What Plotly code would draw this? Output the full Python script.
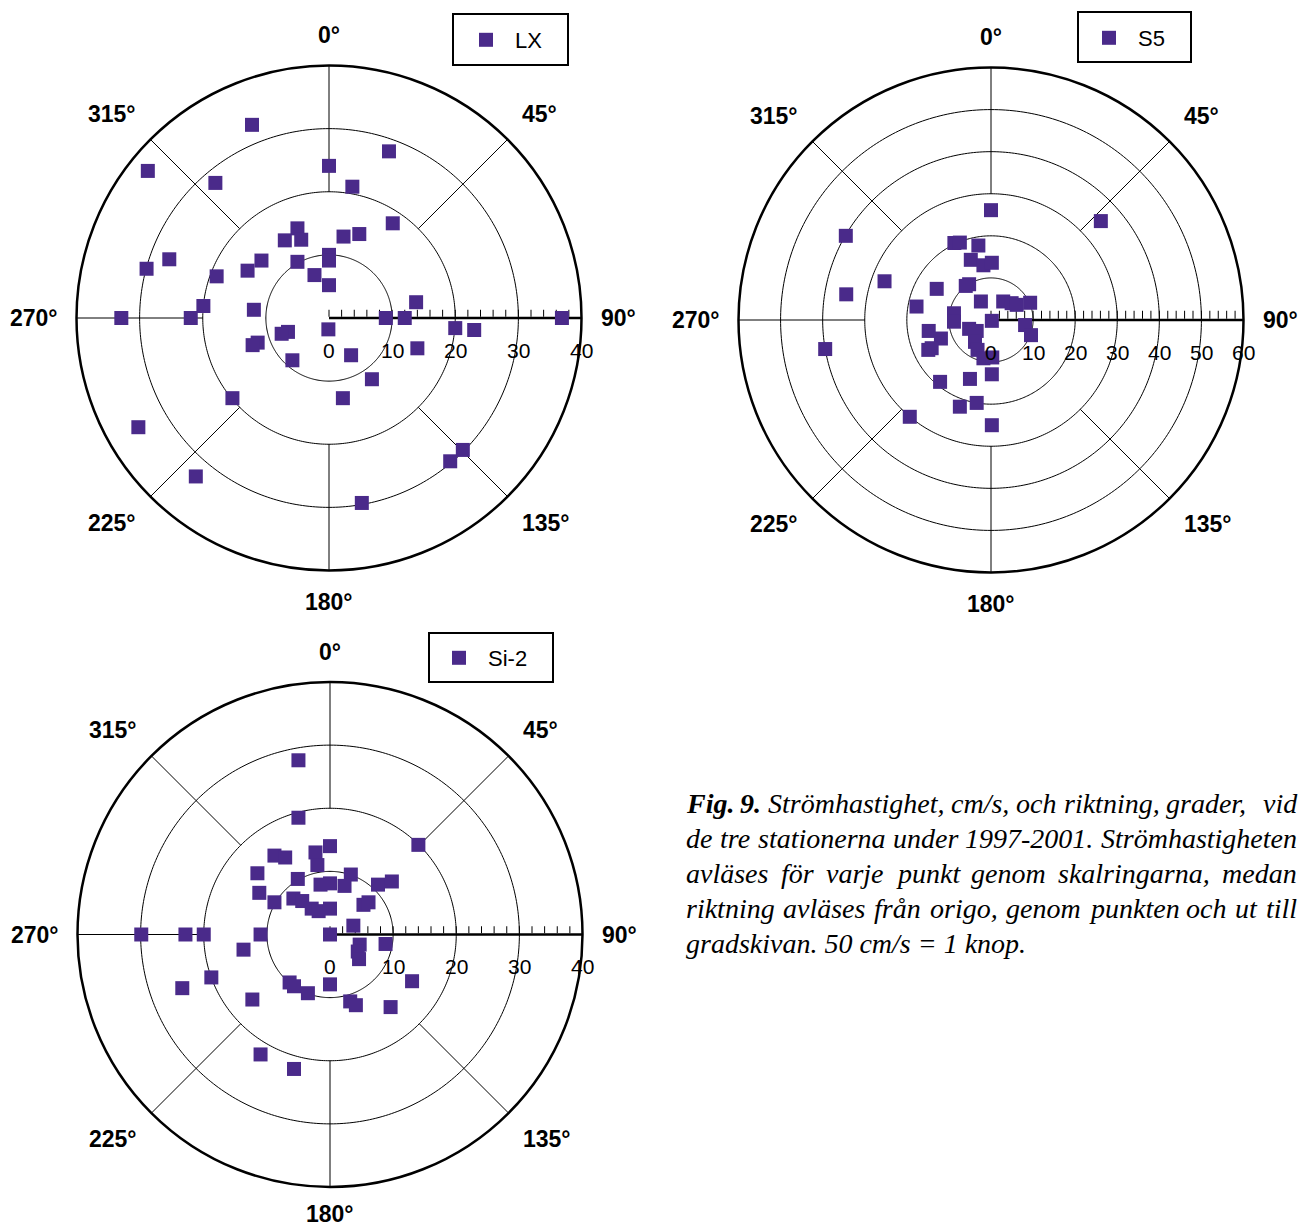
import numpy as np
import plotly.graph_objects as go

W, H = 1301, 1227

# ---------------- data: current velocity components (cm/s), east / north ----------------
lx_east = [-12.2, 9.5, 0.0, -28.7, -18.0, 3.7, 10.1, 4.8, 2.3, -5.0, -4.4, -7.0, 0.0, 0.0, -5.0, -10.7,
           -12.9, -25.3, -28.9, -17.8, -2.3, 0.0, 13.8, -19.9, -11.9, -32.9, -21.9, 9.0, 12.0, 36.9, 20.0,
           23.0, -0.1, -6.5, -7.5, -11.3, -12.1, 14.0, 3.5, -5.8, 6.8, 2.2, -15.3, -30.2, 21.2, 19.2, -21.1, 5.2]
lx_north = [30.6, 26.4, 24.1, 23.3, 21.4, 20.8, 15.0, 13.3, 12.9, 14.2, 12.4, 12.3, 10.0, 9.1, 8.9, 9.1,
            7.5, 9.3, 7.8, 6.6, 6.8, 5.2, 2.5, 1.9, 1.3, 0.0, 0.0, 0.0, 0.0, 0.0, -1.6,
            -1.9, -1.8, -2.2, -2.5, -3.9, -4.3, -4.8, -5.9, -6.7, -9.7, -12.7, -12.7, -17.3, -20.9, -22.7, -25.1, -29.3]

s5_east = [-15.6, 0.0, 26.1, -34.5, -8.7, -7.4, -3.0, -4.8, -1.8, 0.2, -25.3, -5.2, -6.0, -12.9, -34.4,
           -17.7, -2.4, 2.9, 4.9, 6.1, 9.3, -8.8, -8.8, 0.2, 8.1, 9.5, -14.8, -11.9, -14.9, -14.1, -5.2,
           -3.4, -3.8, -3.2, -1.8, 0.3, 0.2, -5.0, -12.1, -3.4, -7.4, -19.3, 0.2, -39.4]
s5_north = [59.0, 26.1, 23.5, 20.0, 18.3, 18.4, 17.7, 14.3, 13.0, 13.6, 9.2, 8.5, 8.1, 7.4, 6.1,
            3.2, 4.4, 4.4, 4.0, 3.6, 4.1, 1.6, -0.4, -0.2, -1.2, -3.6, -2.6, -4.4, -7.1, -6.7, -2.1,
            -2.6, -5.2, -7.1, -9.1, -8.9, -12.9, -14.0, -14.7, -19.7, -20.6, -23.0, -25.0, -6.9]

si_east = [-5.0, -5.0, 14.0, 0.0, -8.8, -7.1, -2.3, -2.0, -11.5, -5.1, 3.3, -1.5, 0.0, 2.3, 7.6, 9.8,
           -11.2, -8.8, -5.8, -4.4, -2.9, -1.8, 0.0, 5.3, 6.1, 3.7, -29.9, -22.9, -20.0, -11.0, 0.0,
           8.8, 4.7, 4.4, 4.6, -13.7, -18.8, 13.0, -23.4, -6.4, -5.7, 0.0, -3.5, -12.3, 3.2, 4.1, 9.6, -11.0, -5.7]
si_north = [27.6, 18.5, 14.2, 14.0, 12.5, 12.2, 13.0, 11.0, 9.7, 8.8, 9.5, 7.9, 8.1, 7.7, 7.9, 8.4,
            6.6, 5.1, 5.7, 5.3, 4.1, 3.7, 4.1, 4.7, 5.1, 1.4, 0.0, 0.0, 0.0, 0.0, 0.0,
            -1.5, -1.6, -2.7, -3.9, -2.4, -6.8, -7.4, -8.5, -7.6, -8.2, -7.9, -9.3, -10.3, -10.6, -11.2, -11.5, -19.0, -21.3]

station_names = ["LX", "S5", "Si-2"]
lx_ticks = [0, 10, 20, 30, 40]
s5_ticks = [0, 10, 20, 30, 40, 50, 60]
si_ticks = [0, 10, 20, 30, 40]
angle_labels = ["0°", "45°", "90°", "135°", "180°", "225°", "270°", "315°"]

caption_lines = [
    "Fig. 9. Strömhastighet, cm/s, och riktning, grader,  vid",
    "de tre stationerna under 1997-2001. Strömhastigheten",
    "avläses för varje punkt genom skalringarna, medan",
    "riktning avläses från origo, genom punkten och ut till",
    "gradskivan. 50 cm/s = 1 knop.",
]

# ---------------- styling ----------------
PURPLE = "#4A2A8A"
SANS = "Liberation Sans, Arial, sans-serif"
SERIF = "Liberation Serif, Times New Roman, serif"
R_PX = 252.5

stations = [
    dict(name="LX", east=lx_east, north=lx_north, ticks=lx_ticks, cx=329, cy=318, sub="polar",
         legend="legend", box=(453, 14, 568, 65), mark=(486, 40), ticklen=7, bottom=284),
    dict(name="S5", east=s5_east, north=s5_north, ticks=s5_ticks, cx=991, cy=320, sub="polar2",
         legend="legend2", box=(1078, 12, 1191, 62), mark=(1109, 38), ticklen=8, bottom=284),
    dict(name="Si-2", east=si_east, north=si_north, ticks=si_ticks, cx=330, cy=934.5, sub="polar3",
         legend="legend3", box=(429, 633, 553, 682), mark=(459, 658), ticklen=7, bottom=279),
]


def px2paper(x, y):
    return x / W, 1 - y / H


fig = go.Figure()
annotations = []
shapes = []
layout_updates = {}

for st in stations:
    rmax = st["ticks"][-1]
    sub = st["sub"]
    # rings
    theta_c = np.linspace(0, 360, 361)
    for rv in st["ticks"][1:-1]:
        fig.add_trace(go.Scatterpolar(r=[rv] * len(theta_c), theta=theta_c, mode="lines",
                                      line=dict(color="black", width=1), subplot=sub,
                                      showlegend=False, hoverinfo="skip"))
    # spokes from half radius to the rim
    for ang in [0, 45, 135, 180, 225, 270, 315]:
        fig.add_trace(go.Scatterpolar(r=[rmax / 2, rmax], theta=[ang, ang], mode="lines",
                                      line=dict(color="black", width=1), subplot=sub,
                                      showlegend=False, hoverinfo="skip"))
    e = np.array(st["east"])
    n = np.array(st["north"])
    speed = np.hypot(e, n)
    direction = np.degrees(np.arctan2(e, n)) % 360
    fig.add_trace(go.Scatterpolar(r=speed, theta=direction, mode="markers", name=st["name"],
                                  marker=dict(symbol="square", size=14, color=PURPLE),
                                  subplot=sub, legend=st["legend"], cliponaxis=False))

    cx, cy = st["cx"], st["cy"]
    x0, y1p = px2paper(cx - R_PX, cy + R_PX)
    x1, y0p = px2paper(cx + R_PX, cy - R_PX)
    layout_updates[sub] = dict(
        domain=dict(x=[x0, x1], y=[y1p, y0p]),
        bgcolor="white",
        angularaxis=dict(rotation=90, direction="clockwise", showline=True, linecolor="black",
                         linewidth=2.5, showgrid=False, showticklabels=False, ticks="",
                         layer="below traces"),
        radialaxis=dict(range=[0, rmax], angle=0, showline=True, linecolor="black", linewidth=2.5,
                        showgrid=False, ticks="outside", tickmode="linear", tick0=0, dtick=2,
                        ticklen=st["ticklen"], tickwidth=1.3, tickcolor="black",
                        showticklabels=False, side="counterclockwise", layer="below traces"),
    )
    # radial tick labels
    for t in st["ticks"]:
        ax, ay = px2paper(cx + t / rmax * R_PX, cy + 32)
        annotations.append(dict(x=ax, y=ay, xref="paper", yref="paper", text=str(t), showarrow=False,
                                xanchor="center", yanchor="middle",
                                font=dict(family=SANS, size=21, color="black")))
    # angular labels
    offs = {
        "0°": (0, -283, "center"), "45°": (192, -204.5, "left"), "90°": (271, 0, "left"),
        "135°": (192, 204.5, "left"), "180°": (0, st["bottom"], "center"), "225°": (-192, 204.5, "right"),
        "270°": (-270, 0, "right"), "315°": (-192, -204.5, "right"),
    }
    for lab in angle_labels:
        dx, dy, anc = offs[lab]
        ax, ay = px2paper(cx + dx, cy + dy)
        annotations.append(dict(x=ax, y=ay, xref="paper", yref="paper", text="<b>" + lab + "</b>",
                                showarrow=False, xanchor=anc, yanchor="middle", borderpad=0,
                                font=dict(family=SANS, size=23, color="black")))
    # legend box
    bx0, by0, bx1, by1 = st["box"]
    sx0, sy1 = px2paper(bx0, by1)
    sx1, sy0 = px2paper(bx1, by0)
    shapes.append(dict(type="rect", xref="paper", yref="paper", x0=sx0, x1=sx1, y0=sy1, y1=sy0,
                       line=dict(color="black", width=2), fillcolor="rgba(0,0,0,0)"))
    mx, my = st["mark"]
    lx_, ly_ = px2paper(mx - 29, my)
    layout_updates[st["legend"]] = dict(x=lx_, y=ly_, xanchor="left", yanchor="middle",
                                        bgcolor="rgba(0,0,0,0)", borderwidth=0, itemwidth=48,
                                        font=dict(family=SANS, size=22, color="black"))

# ---------------- caption (justified, word by word) ----------------
IT = {' ': 250, ',': 250, '.': 250, '/': 278, '-': 333, '=': 675, 'S': 500, 'F': 611,
      'a': 500, 'b': 500, 'c': 444, 'd': 500, 'e': 444, 'f': 278, 'g': 500, 'h': 500, 'i': 278,
      'j': 278, 'k': 444, 'l': 278, 'm': 722, 'n': 500, 'o': 500, 'p': 500, 'q': 500, 'r': 389,
      's': 389, 't': 278, 'u': 500, 'v': 444, 'w': 667, 'x': 444, 'y': 444, 'z': 389,
      'ä': 500, 'å': 500, 'ö': 500}
BI = {'F': 667, 'i': 278, 'g': 500, '.': 250, '9': 500}
CAP_SIZE = 28
CAP_X0, CAP_X1 = 685, 1296
CAP_Y0, CAP_DY = 803.5, 35


def word_w(word, bold):
    tbl = BI if bold else IT
    return sum(tbl.get(ch, IT.get(ch, 500)) for ch in word) * CAP_SIZE / 1000.0


for li, line in enumerate(caption_lines):
    yc = CAP_Y0 + li * CAP_DY
    if li == len(caption_lines) - 1:
        ax, ay = px2paper(CAP_X0, yc)
        annotations.append(dict(x=ax, y=ay, xref="paper", yref="paper", text="<i>" + line + "</i>",
                                showarrow=False, xanchor="left", yanchor="middle", borderpad=0,
                                font=dict(family=SERIF, size=CAP_SIZE, color="black")))
        continue
    words, weights, pending = [], [], 0
    for tok in line.split(" "):
        if tok == "":
            pending += 1
            continue
        if words:
            weights.append(1 + pending)
        pending = 0
        words.append(tok)
    bold_flags = [(li == 0 and wi < 2) for wi in range(len(words))]
    widths = [word_w(w, b) for w, b in zip(words, bold_flags)]
    gap = (CAP_X1 - CAP_X0 - sum(widths)) / max(sum(weights), 1)
    x = CAP_X0
    for wi, (w, b) in enumerate(zip(words, bold_flags)):
        txt = "<b><i>" + w + "</i></b>" if b else "<i>" + w + "</i>"
        ax, ay = px2paper(x, yc)
        annotations.append(dict(x=ax, y=ay, xref="paper", yref="paper", text=txt, showarrow=False,
                                xanchor="left", yanchor="middle", borderpad=0,
                                font=dict(family=SERIF, size=CAP_SIZE, color="black")))
        x += widths[wi]
        if wi < len(weights):
            x += gap * weights[wi]

fig.update_layout(
    width=W, height=H, margin=dict(l=0, r=0, t=0, b=0, autoexpand=False),
    paper_bgcolor="white", plot_bgcolor="white",
    annotations=annotations, shapes=shapes, showlegend=True,
    **layout_updates,
)

fig.write_html("out.html", config={"displayModeBar": False},
               post_script="document.body.style.margin='0px';")
